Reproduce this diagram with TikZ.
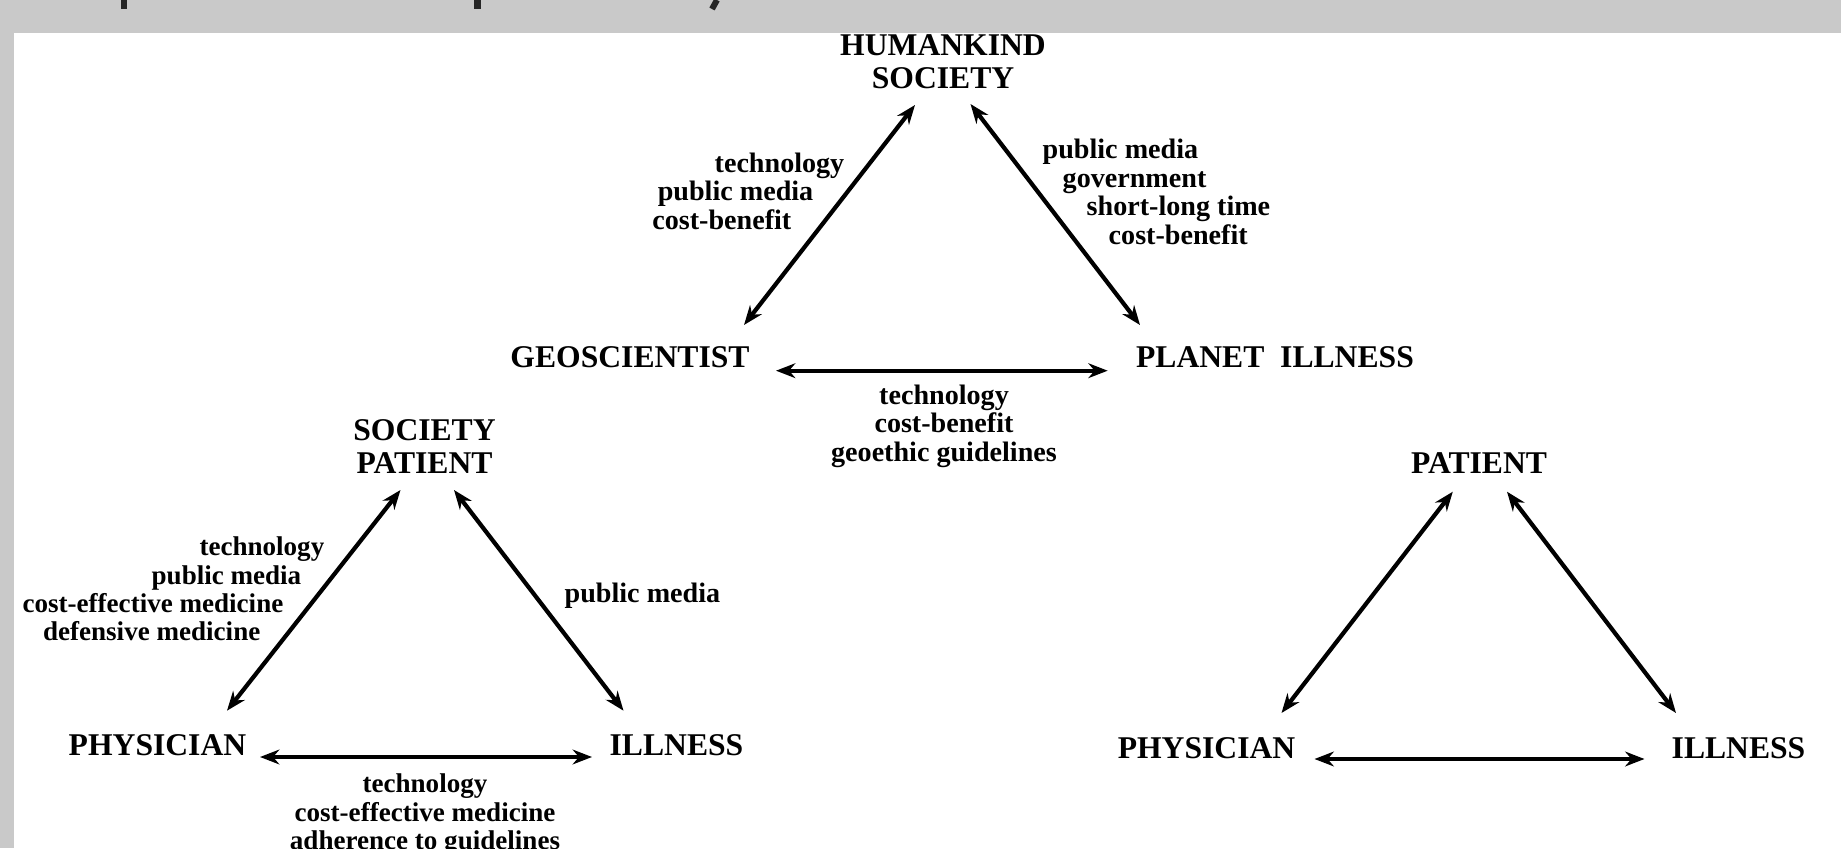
\documentclass[tikz,border=0pt]{standalone}
\usepackage{fontspec}
\setmainfont{Liberation Serif}
\usetikzlibrary{arrows.meta}
\definecolor{slidegray}{RGB}{201,201,201}
\tikzset{
  term/.style={font=\bfseries\fontsize{9}{9.4}\selectfont, align=center, inner sep=0pt},
  factors/.style={font=\bfseries\fontsize{8}{8.1}\selectfont, inner sep=0pt},
  small factors/.style={factors, font=\bfseries\fontsize{7.7}{8.1}\selectfont},
  link/.style={line width=1.2pt, {Stealth[length=5.5pt,width=4.2pt]}-{Stealth[length=5.5pt,width=4.2pt]}}
}
\begin{document}
\begin{tikzpicture}

    \useasboundingbox (0,0) rectangle (18.41,8.48);

    % Slide background
    \fill[slidegray] (0,0) rectangle (18.41,8.48);
    \fill[white] (0.14,0) rectangle (18.41,8.15);
    \fill[black!85] (1.205,8.39) rectangle (1.27,8.48);
    \fill[black!85] (4.74,8.39) rectangle (4.81,8.48);
    \draw[black!85, line width=0.6mm] (7.17,8.48) -- (7.12,8.39);

    % Geoscience triangle
    \node[term] (hk) at (9.43,7.86) {HUMANKIND\\SOCIETY};
    \node[term] (geo) at (6.30,4.91) {GEOSCIENTIST};
    \node[term] (planet) at (12.75,4.91) {PLANET\ \ ILLNESS};

    \draw[link] ([shift={(-0.28,-0.43)}]hk.center) -- ([shift={(1.14,0.32)}]geo.center);
    \draw[link] ([shift={(0.275,-0.42)}]hk.center) -- ([shift={(-1.35,0.32)}]planet.center);
    \draw[link] ([shift={(1.46,-0.137)}]geo.center) -- ([shift={(-1.673,-0.137)}]planet.center);

    \node[factors, align=right, anchor=east] (hkgeo) at (8.45,6.57)
        {technology\\public media\hspace*{0.31cm}\mbox{}\\cost-benefit\hspace*{0.53cm}\mbox{}};
    \node[factors, align=left, anchor=west] (hkplanet) at (10.42,6.56)
        {public media\\\hspace*{0.20cm}government\\\hspace*{0.44cm}short-long time\\\hspace*{0.66cm}cost-benefit};
    \node[factors, align=center] (geoplanet) at (9.44,4.22)
        {technology\\cost-benefit\\geoethic guidelines};

    % Medical triangle
    \node[term] (socpat) at (4.245,4.015) {SOCIETY\\PATIENT};
    \node[term] (phys) at (1.575,1.03) {PHYSICIAN};
    \node[term] (ill) at (6.765,1.03) {ILLNESS};

    \draw[link] ([shift={(-0.24,-0.435)}]socpat.center) -- ([shift={(0.695,0.343)}]phys.center);
    \draw[link] ([shift={(0.295,-0.435)}]socpat.center) -- ([shift={(-0.53,0.343)}]ill.center);
    \draw[link] ([shift={(1.025,-0.12)}]phys.center) -- ([shift={(-0.845,-0.12)}]ill.center);

    \node[small factors, align=right, anchor=east] (socphys) at (3.25,2.59)
        {technology\\public media\hspace*{0.23cm}\mbox{}\\cost-effective medicine\hspace*{0.41cm}\mbox{}\\defensive medicine\hspace*{0.64cm}\mbox{}};
    \node[factors, anchor=west] (socill) at (5.64,2.52) {public media};
    \node[small factors, align=center] (physill) at (4.25,0.33)
        {technology\\cost-effective medicine\\adherence to guidelines};

    % Bare triangle
    \node[term] (pat) at (14.79,3.85) {PATIENT};
    \node[term] (phys2) at (12.065,1.00) {PHYSICIAN};
    \node[term] (ill2) at (17.385,1.00) {ILLNESS};

    \draw[link] ([shift={(-0.262,-0.287)}]pat.center) -- ([shift={(0.75,0.35)}]phys2.center);
    \draw[link] ([shift={(0.28,-0.287)}]pat.center) -- ([shift={(-0.625,0.35)}]ill2.center);
    \draw[link] ([shift={(1.08,-0.11)}]phys2.center) -- ([shift={(-0.94,-0.11)}]ill2.center);

\end{tikzpicture}
\end{document}
